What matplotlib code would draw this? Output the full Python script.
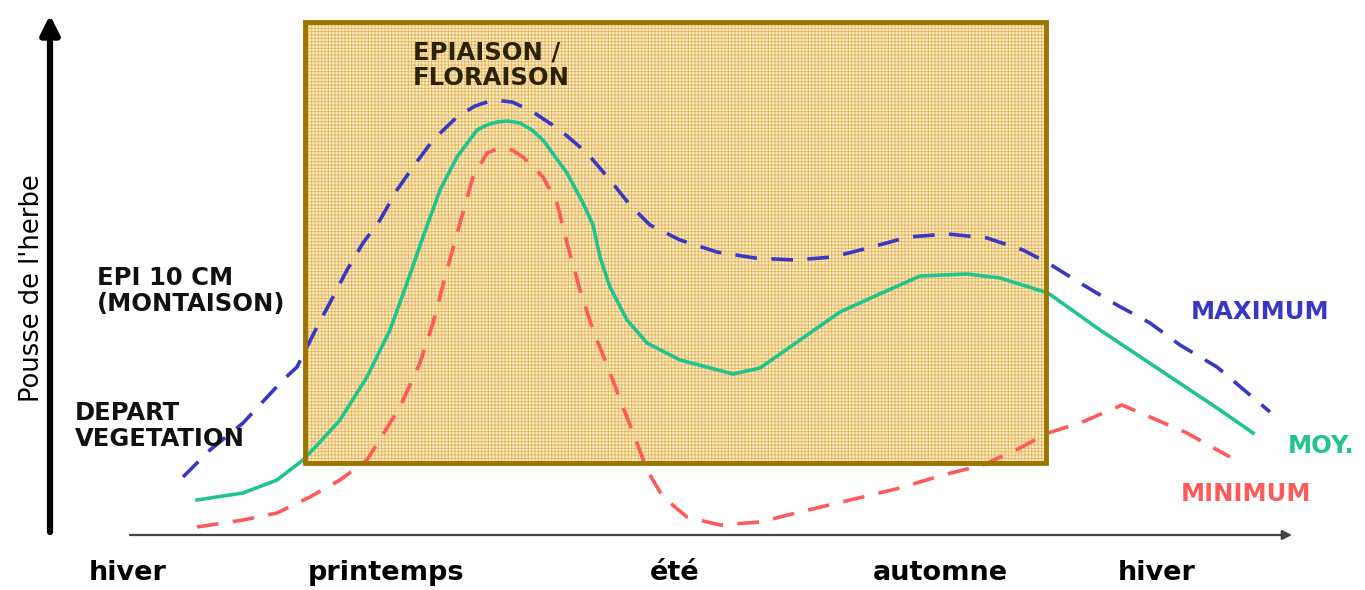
import matplotlib
matplotlib.use('Agg')
import matplotlib.pyplot as plt
from matplotlib.patches import Rectangle

# position in the year (x) and grass growth level above the time axis (y)
max_x = [183, 210, 243, 283, 297, 317, 333, 347, 363, 380, 397, 413, 433, 457, 475, 493, 512,
         530, 560, 587, 610, 630, 650, 680, 717, 755, 795, 833, 872, 908, 948, 987, 1023,
         1048, 1080, 1117, 1150, 1180, 1217, 1270]
max_y = [58, 85, 112, 155, 168, 208, 238, 265, 292, 315, 345, 368, 395, 418, 429, 435, 433,
         425, 405, 382, 355, 330, 310, 295, 283, 277, 275, 278, 288, 298, 301, 297, 285,
         272, 252, 230, 212, 190, 168, 123]

moy_x = [197, 243, 277, 303, 320, 340, 367, 390, 407, 423, 440, 457, 477, 487, 497, 508, 520,
         532, 543, 567, 583, 593, 600, 610, 627, 647, 680, 733, 760, 800, 840, 873, 920, 967,
         1000, 1048, 1100, 1160, 1220, 1253]
moy_y = [35, 42, 55, 75, 93, 115, 158, 205, 252, 298, 345, 378, 405, 410, 413, 414, 412,
         405, 395, 362, 332, 310, 278, 248, 215, 192, 175, 161, 167, 195, 223, 238, 259, 261,
         257, 242, 205, 165, 125, 102]

min_x = [197, 243, 277, 310, 340, 367, 400, 420, 433, 447, 460, 473, 487, 500, 512, 523, 543,
         557, 567, 580, 593, 607, 623, 637, 647, 663, 687, 720, 760, 800, 850, 900, 943, 983,
         1020, 1048, 1080, 1122, 1150, 1187, 1230]
min_y = [8, 15, 22, 38, 55, 75, 128, 172, 212, 265, 312, 358, 382, 387, 385, 378, 358,
         332, 292, 245, 205, 170, 128, 92, 65, 38, 18, 10, 13, 23, 35, 47, 60, 70,
         87, 102, 112, 130, 118, 102, 78]

seasons = ['hiver', 'printemps', 'été', 'automne', 'hiver']
season_x = [128, 386, 675, 940, 1157]

# stage box (montaison -> fin de croissance)
box_x0, box_x1 = 305, 1046
box_y0, box_y1 = 72, 513

c_max = '#3838c4'
c_moy = '#1fc48e'
c_min = '#ff5a5a'

fig = plt.figure(figsize=(13.65, 5.9), dpi=100)
ax = fig.add_axes([0, 0, 1, 1])
ax.set_xlim(0, 1365)
ax.set_ylim(-55, 535)
ax.axis('off')

# shaded box (fine grid texture)
plt.rcParams['hatch.linewidth'] = 0.6
ax.add_patch(Rectangle((box_x0, box_y0), box_x1 - box_x0, box_y1 - box_y0,
                       facecolor='#f8e9c6', edgecolor='#e6b75a',
                       hatch='+++++', lw=0, zorder=1))
ax.add_patch(Rectangle((box_x0, box_y0), box_x1 - box_x0, box_y1 - box_y0,
                       facecolor='none', edgecolor='#9c7400', lw=3.5, zorder=4))

# curves
ax.plot(max_x, max_y, color=c_max, lw=2.6, linestyle=(0, (6, 4)), zorder=2)
ax.plot(moy_x, moy_y, color=c_moy, lw=2.6, solid_joinstyle='round', zorder=2)
ax.plot(min_x, min_y, color=c_min, lw=2.6, linestyle=(0, (6, 4)), zorder=2)

# axes arrows
ax.annotate('', xy=(50, 520), xytext=(50, 3),
            arrowprops=dict(arrowstyle='-|>', lw=4.5, color='black', mutation_scale=28,
                            shrinkA=0, shrinkB=0), zorder=5)
ax.annotate('', xy=(1292, 0), xytext=(130, 0),
            arrowprops=dict(arrowstyle='-|>', lw=1.6, color='#444444', mutation_scale=14,
                            shrinkA=0, shrinkB=0), zorder=5)

ax.text(32, 247, "Pousse de l'herbe", rotation=90, ha='center', va='center',
        fontsize=18.5, color='black')

for s, x in zip(seasons, season_x):
    ax.text(x, -38, s, ha='center', va='center', fontsize=19.5, fontweight='bold', color='black')

ax.text(413, 495, 'EPIAISON /\nFLORAISON', ha='left', va='top', fontsize=17.5,
        fontweight='bold', color='#2a2200', linespacing=1.1, zorder=6)
ax.text(97, 269, 'EPI 10 CM\n(MONTAISON)', ha='left', va='top', fontsize=17.5,
        fontweight='bold', color='#111111', linespacing=1.1, zorder=6)
ax.text(75, 134, 'DEPART\nVEGETATION', ha='left', va='top', fontsize=17.5,
        fontweight='bold', color='#111111', linespacing=1.1, zorder=6)

ax.text(1260, 223, 'MAXIMUM', ha='center', va='center', fontsize=17.5, fontweight='bold', color=c_max)
ax.text(1321, 89, 'MOY.', ha='center', va='center', fontsize=17.5, fontweight='bold', color=c_moy)
ax.text(1246, 41, 'MINIMUM', ha='center', va='center', fontsize=17.5, fontweight='bold', color=c_min)

fig.savefig('out.png', dpi=100)
